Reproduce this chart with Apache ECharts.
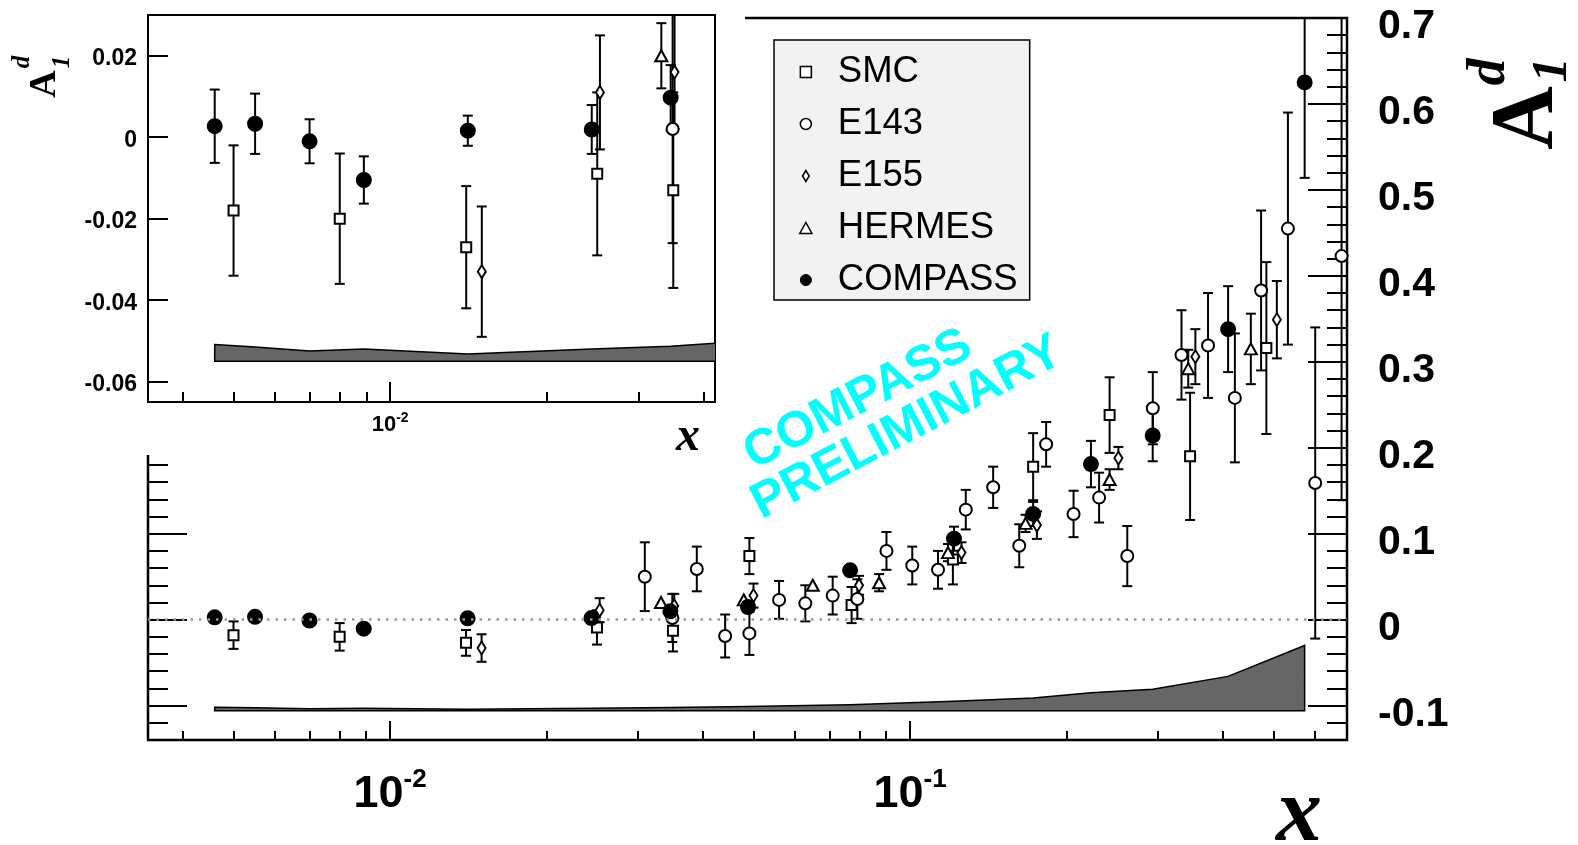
<!DOCTYPE html>
<html>
<head>
<meta charset="utf-8">
<title>A1d vs x</title>
<script src="https://cdn.jsdelivr.net/npm/echarts@6/dist/echarts.min.js"></script>
<style>html,body{margin:0;padding:0;background:#fff;}</style>
</head>
<body>
<div id="main" style="width:1578px;height:845px;"></div>
<script type="text/javascript">

var SANS = "'Liberation Sans', Arial, sans-serif";
var SERIF = "'Liberation Serif', 'Times New Roman', serif";

// data: x, A1d, stat. error
var SMC_X = [0.0050, 0.0080, 0.0140, 0.0250, 0.0350, 0.0491, 0.0772, 0.1209, 0.1725, 0.2420, 0.3456, 0.4845];
var SMC_Y = [-0.018, -0.020, -0.027, -0.009, -0.013, 0.074, 0.017, 0.070, 0.178, 0.238, 0.190, 0.316];
var SMC_E = [0.016, 0.016, 0.015, 0.020, 0.024, 0.021, 0.021, 0.029, 0.039, 0.044, 0.074, 0.100];

var E143_X = [0.0309, 0.0349, 0.0389, 0.0441, 0.0491, 0.0560, 0.0629, 0.0710, 0.0792, 0.0901, 0.1010, 0.1132, 0.1280, 0.1445,
              0.1622, 0.1827, 0.2063, 0.2310, 0.2617, 0.2930, 0.3327, 0.3742, 0.4214, 0.4733, 0.5330, 0.6015, 0.6760];
var E143_Y = [0.050, 0.002, 0.059, -0.019, -0.016, 0.023, 0.019, 0.028, 0.024, 0.080, 0.063, 0.058, 0.128, 0.154,
              0.086, 0.204, 0.123, 0.142, 0.074, 0.246, 0.308, 0.319, 0.258, 0.383, 0.455, 0.159, 0.423];
var E143_E = [0.040, 0.028, 0.026, 0.025, 0.025, 0.022, 0.021, 0.022, 0.023, 0.022, 0.022, 0.022, 0.023, 0.024,
              0.025, 0.026, 0.027, 0.029, 0.035, 0.042, 0.052, 0.061, 0.075, 0.093, 0.135, 0.181, 0.284];

var E155_X = [0.0150, 0.0253, 0.0352, 0.0500, 0.0798, 0.1256, 0.1754, 0.2516, 0.3538, 0.5075];
var E155_Y = [-0.033, 0.011, 0.016, 0.028, 0.040, 0.078, 0.110, 0.188, 0.306, 0.349];
var E155_E = [0.016, 0.014, 0.014, 0.014, 0.011, 0.012, 0.016, 0.013, 0.032, 0.045];

var HERMES_X = [0.0332, 0.0479, 0.0650, 0.0872, 0.1183, 0.1668, 0.2420, 0.3428, 0.4523];
var HERMES_Y = [0.020, 0.023, 0.040, 0.043, 0.078, 0.112, 0.163, 0.292, 0.315];
var HERMES_E = [0.008, 0.009, 0.008, 0.010, 0.010, 0.010, 0.012, 0.022, 0.041];

var COMPASS_X = [0.0046, 0.0055, 0.0070, 0.0089, 0.0141, 0.0244, 0.0346, 0.0488, 0.0767, 0.1215, 0.1725, 0.2228, 0.2929, 0.4090, 0.5740];
var COMPASS_Y = [0.0027, 0.0033, -0.0010, -0.0105, 0.0016, 0.0019, 0.0097, 0.0147, 0.0574, 0.0942, 0.1230, 0.1810, 0.2143, 0.3380, 0.6250];
var COMPASS_E = [0.0090, 0.0074, 0.0054, 0.0058, 0.0037, 0.0060, 0.0080, 0.0090, 0.0080, 0.0140, 0.0140, 0.0270, 0.0300, 0.0500, 0.1110];
var COMPASS_SYS = [0.0041, 0.0035, 0.0025, 0.0030, 0.0018, 0.0030, 0.0037, 0.0050, 0.0070, 0.0110, 0.0150, 0.0210, 0.0250, 0.0400, 0.0760];

// axis ranges and ticks
var X_MIN = 0.003424, X_MAX_MAIN = 0.6924, X_MAX_INSET = 0.0421;
var Y_MIN_MAIN = -0.14, Y_MAX_MAIN = 0.70;
var Y_MIN_INSET = -0.065, Y_MAX_INSET = 0.03;
var SYS_BASE_MAIN = -0.106, SYS_BASE_INSET = -0.055;

var X_MAJOR_MAIN = [0.01, 0.1];
var X_MINOR_MAIN = [0.004, 0.005, 0.006, 0.007, 0.008, 0.009, 0.02, 0.03, 0.04, 0.05, 0.06, 0.07, 0.08, 0.09, 0.2, 0.3, 0.4, 0.5, 0.6];
var Y_MAJOR_MAIN = [-0.1, 0, 0.1, 0.2, 0.3, 0.4, 0.5, 0.6, 0.7];
var Y_MINOR_MAIN = [-0.14, -0.12, -0.08, -0.06, -0.04, -0.02, 0.02, 0.04, 0.06, 0.08, 0.12, 0.14, 0.16, 0.18,
                    0.22, 0.24, 0.26, 0.28, 0.32, 0.34, 0.36, 0.38, 0.42, 0.44, 0.46, 0.48, 0.52, 0.54, 0.56, 0.58,
                    0.62, 0.64, 0.66, 0.68];
var X_MAJOR_INSET = [0.01];
var X_MINOR_INSET = [0.004, 0.005, 0.006, 0.007, 0.008, 0.009, 0.02, 0.03, 0.04];
var Y_MAJOR_INSET = [-0.06, -0.04, -0.02, 0, 0.02];

var SETS = [
    {name: 'SMC', x: SMC_X, y: SMC_Y, e: SMC_E, symbol: 'rect', size: 10, fill: '#fff'},
    {name: 'E143', x: E143_X, y: E143_Y, e: E143_E, symbol: 'circle', size: 12, fill: '#fff'},
    {name: 'E155', x: E155_X, y: E155_Y, e: E155_E, symbol: 'path://M4,0L8,6.5L4,13L0,6.5Z', size: [8, 13], fill: '#fff'},
    {name: 'HERMES', x: HERMES_X, y: HERMES_Y, e: HERMES_E, symbol: 'triangle', size: [12, 11], fill: '#fff'},
    {name: 'COMPASS', x: COMPASS_X, y: COMPASS_Y, e: COMPASS_E, symbol: 'circle', size: 14, fill: '#000'}
];

function points(s, xmax, ymin, ymax) {
    var out = [];
    for (var i = 0; i < s.x.length; i++) {
        if (s.x[i] <= xmax && s.y[i] >= ymin && s.y[i] <= ymax) out.push([s.x[i], s.y[i], s.e[i]]);
    }
    return out;
}

// bars shorter than the marker are not drawn, as in the original
function errorBars(ymin, ymax) {
    return function (params, api) {
        var x = api.value(0), y = api.value(1), e = api.value(2);
        var p0 = api.coord([x, Math.max(y - e, ymin)]);
        var p1 = api.coord([x, Math.min(y + e, ymax)]);
        var pc = api.coord([x, y]);
        if (Math.abs(p0[1] - pc[1]) < 8.5 && Math.abs(p1[1] - pc[1]) < 8.5) return;
        var st = {stroke: '#000', lineWidth: 2};
        var kids = [{type: 'line', shape: {x1: p0[0], y1: p0[1], x2: p1[0], y2: p1[1]}, style: st}];
        if (y - e > ymin) kids.push({type: 'line', shape: {x1: p0[0] - 5, y1: p0[1], x2: p0[0] + 5, y2: p0[1]}, style: st});
        if (y + e < ymax) kids.push({type: 'line', shape: {x1: p1[0] - 5, y1: p1[1], x2: p1[0] + 5, y2: p1[1]}, style: st});
        return {type: 'group', children: kids};
    };
}

function sysBand(base) {
    return function (params, api) {
        if (params.dataIndex !== 0) return;
        var pts = [];
        for (var i = 0; i < COMPASS_X.length; i++) pts.push(api.coord([COMPASS_X[i], base + COMPASS_SYS[i]]));
        pts.push(api.coord([COMPASS_X[COMPASS_X.length - 1], base]));
        pts.push(api.coord([COMPASS_X[0], base]));
        var cs = params.coordSys;
        return {
            type: 'polygon',
            shape: {points: pts},
            style: {fill: '#666666', stroke: '#000', lineWidth: 1.5},
            clipPath: {type: 'rect', shape: {x: cs.x, y: cs.y, width: cs.width, height: cs.height}}
        };
    };
}

function tickAxis(o) {
    return {
        type: o.type, gridIndex: o.grid, position: o.position, min: o.min, max: o.max, z: o.z,
        logBase: 10, silent: true,
        axisLine: {show: false, onZero: false},
        splitLine: {show: false},
        axisTick: {show: true, inside: true, length: o.len, customValues: o.ticks,
                   lineStyle: {color: '#000', width: 2}},
        axisLabel: o.label || {show: false}
    };
}

function powLabel(v) {
    return '{b|10}{s|' + Math.round(Math.log(v) / Math.LN10) + '}';
}

function yLabel(digits) {
    return function (v) { return '{v|' + (v === 0 ? '0' : v.toFixed(digits)) + '}'; };
}

var xAxes = [
    tickAxis({type: 'log', grid: 0, position: 'bottom', min: X_MIN, max: X_MAX_MAIN, len: 19, ticks: X_MAJOR_MAIN, z: 1,
        label: {show: true, customValues: X_MAJOR_MAIN, margin: 27, formatter: powLabel, color: '#000',
            rich: {b: {fontSize: 45, fontWeight: 'bold', fontFamily: SANS, color: '#000', lineHeight: 56},
                   s: {fontSize: 26, fontWeight: 'bold', fontFamily: SANS, color: '#000', lineHeight: 26, verticalAlign: 'top'}}}}),
    tickAxis({type: 'log', grid: 0, position: 'bottom', min: X_MIN, max: X_MAX_MAIN, len: 9, ticks: X_MINOR_MAIN, z: 1}),
    tickAxis({type: 'log', grid: 1, position: 'bottom', min: X_MIN, max: X_MAX_INSET, len: 20, ticks: X_MAJOR_INSET, z: 12,
        label: {show: true, customValues: X_MAJOR_INSET, margin: 9, formatter: powLabel, color: '#000',
            rich: {b: {fontSize: 22, fontWeight: 'bold', fontFamily: SANS, color: '#000', lineHeight: 28},
                   s: {fontSize: 14, fontWeight: 'bold', fontFamily: SANS, color: '#000', lineHeight: 14, verticalAlign: 'top'}}}}),
    tickAxis({type: 'log', grid: 1, position: 'bottom', min: X_MIN, max: X_MAX_INSET, len: 10, ticks: X_MINOR_INSET, z: 12})
];

var yAxes = [
    tickAxis({type: 'value', grid: 0, position: 'right', min: Y_MIN_MAIN, max: Y_MAX_MAIN, len: 39, ticks: Y_MAJOR_MAIN, z: 1,
        label: {show: true, customValues: Y_MAJOR_MAIN, margin: 31, formatter: yLabel(1),
            rich: {v: {fontSize: 41, fontWeight: 'bold', fontFamily: SANS, color: '#000', padding: [18, 0, 0, 0]}}}}),
    tickAxis({type: 'value', grid: 0, position: 'right', min: Y_MIN_MAIN, max: Y_MAX_MAIN, len: 20, ticks: Y_MINOR_MAIN, z: 1}),
    tickAxis({type: 'value', grid: 0, position: 'left', min: Y_MIN_MAIN, max: Y_MAX_MAIN, len: 39, ticks: Y_MAJOR_MAIN, z: 1}),
    tickAxis({type: 'value', grid: 0, position: 'left', min: Y_MIN_MAIN, max: Y_MAX_MAIN, len: 20, ticks: Y_MINOR_MAIN, z: 1}),
    tickAxis({type: 'value', grid: 1, position: 'left', min: Y_MIN_INSET, max: Y_MAX_INSET, len: 20, ticks: Y_MAJOR_INSET, z: 12,
        label: {show: true, customValues: Y_MAJOR_INSET, margin: 11, formatter: yLabel(2),
            rich: {v: {fontSize: 23, fontWeight: 'bold', fontFamily: SANS, color: '#000', padding: [6, 0, 0, 0]}}}})
];

var series = [];
function addPanel(xi, yi, xmax, ymin, ymax, base, z) {
    series.push({
        type: 'custom', xAxisIndex: xi, yAxisIndex: yi, z: z, silent: true, clip: true,
        renderItem: sysBand(base),
        data: COMPASS_X.map(function (x, i) { return [x, base + COMPASS_SYS[i]]; }),
        encode: {x: 0, y: 1}
    });
    SETS.forEach(function (s) {
        series.push({
            type: 'custom', xAxisIndex: xi, yAxisIndex: yi, z: z + 1, silent: true,
            renderItem: errorBars(ymin, ymax),
            data: points(s, xmax, ymin, ymax),
            encode: {x: 0, y: 1}
        });
    });
    SETS.forEach(function (s, k) {
        var ser = {
            type: 'scatter', name: s.name, xAxisIndex: xi, yAxisIndex: yi, z: z + 2, silent: true,
            symbol: s.symbol, symbolSize: s.size,
            itemStyle: {color: s.fill, borderColor: '#000', borderWidth: 2, opacity: 1},
            data: points(s, xmax, ymin, ymax).map(function (p) { return [p[0], p[1]]; })
        };
        if (k === 0) {
            ser.markLine = {silent: true, symbol: 'none', label: {show: false}, animation: false,
                lineStyle: {color: '#999', type: [2.5, 6], width: 2.5}, data: [{yAxis: 0}]};
        }
        series.push(ser);
    });
}
addPanel(0, 0, X_MAX_MAIN, Y_MIN_MAIN, Y_MAX_MAIN, SYS_BASE_MAIN, 2);
addPanel(2, 4, X_MAX_INSET, Y_MIN_INSET, Y_MAX_INSET, SYS_BASE_INSET, 13);

var openIcon = {color: '#fff', borderColor: '#000', borderWidth: 1.5};
var option = {
    animation: false,
    backgroundColor: '#fff',
    grid: [
        {left: 148, top: 18, width: 1199, height: 722, show: true, borderColor: '#000', borderWidth: 2.5,
         backgroundColor: 'transparent', z: 1, outerBoundsMode: 'none'},
        {left: 148, top: 15, width: 567, height: 387, show: true, borderColor: '#000', borderWidth: 2,
         backgroundColor: 'transparent', z: 11, outerBoundsMode: 'none'}
    ],
    xAxis: xAxes,
    yAxis: yAxes,
    legend: {
        orient: 'vertical', left: 774, top: 40, padding: [12, 12, 0, 25], itemGap: 12,
        itemWidth: 54, itemHeight: 11, selectedMode: false, z: 20,
        backgroundColor: '#f2f2f2', borderColor: '#000', borderWidth: 1.5, borderRadius: 0,
        textStyle: {fontSize: 36.5, fontFamily: SANS, color: '#000', lineHeight: 40},
        data: [
            {name: 'SMC', icon: 'path://M0,0H10V10H0Z', itemStyle: openIcon},
            {name: 'E143', icon: 'circle', itemStyle: openIcon},
            {name: 'E155', icon: 'path://M3,0L6,5L3,10L0,5Z', itemStyle: openIcon},
            {name: 'HERMES', icon: 'path://M5,0L10,9L0,9Z', itemStyle: openIcon},
            {name: 'COMPASS', icon: 'circle', itemStyle: {color: '#000', borderColor: '#000', borderWidth: 1}}
        ]
    },
    graphic: {elements: [
        // watermark
        {type: 'text', x: 858, y: 400, rotation: 27.5 * Math.PI / 180, z: 5, silent: true,
         style: {text: 'COMPASS', fill: '#00ffff', font: 'bold 50px ' + SANS, align: 'center', verticalAlign: 'middle'}},
        {type: 'text', x: 907, y: 428, rotation: 27.5 * Math.PI / 180, z: 5, silent: true,
         style: {text: 'PRELIMINARY', fill: '#00ffff', font: 'bold 50px ' + SANS, align: 'center', verticalAlign: 'middle'}},
        // white pad behind the inset
        {type: 'rect', shape: {x: 0, y: 0, width: 745, height: 455}, style: {fill: '#fff'}, z: 10, silent: true},
        // main axis titles
        {type: 'text', x: 1299, y: 816, z: 21, silent: true,
         style: {text: 'x', fill: '#000', font: 'italic bold 92px ' + SERIF, align: 'center', verticalAlign: 'middle'}},
        {type: 'text', x: 1528, y: 118, rotation: Math.PI / 2, z: 21, silent: true,
         style: {text: 'A', fill: '#000', font: 'bold 88px ' + SERIF, align: 'center', verticalAlign: 'middle'}},
        {type: 'text', x: 1553, y: 70, rotation: Math.PI / 2, z: 21, silent: true,
         style: {text: '1', fill: '#000', font: 'italic bold 50px ' + SERIF, align: 'center', verticalAlign: 'middle'}},
        {type: 'text', x: 1490, y: 72, rotation: Math.PI / 2, z: 21, silent: true,
         style: {text: 'd', fill: '#000', font: 'italic bold 54px ' + SERIF, align: 'center', verticalAlign: 'middle'}},
        // inset axis titles
        {type: 'text', x: 688, y: 438, z: 21, silent: true,
         style: {text: 'x', fill: '#000', font: 'italic bold 48px ' + SERIF, align: 'center', verticalAlign: 'middle'}},
        {type: 'text', x: 45, y: 84, rotation: Math.PI / 2, z: 21, silent: true,
         style: {text: 'A', fill: '#000', font: 'bold 38px ' + SERIF, align: 'center', verticalAlign: 'middle'}},
        {type: 'text', x: 63, y: 62, rotation: Math.PI / 2, z: 21, silent: true,
         style: {text: '1', fill: '#000', font: 'italic bold 25px ' + SERIF, align: 'center', verticalAlign: 'middle'}},
        {type: 'text', x: 23, y: 62, rotation: Math.PI / 2, z: 21, silent: true,
         style: {text: 'd', fill: '#000', font: 'italic bold 25px ' + SERIF, align: 'center', verticalAlign: 'middle'}}
    ]},
    series: series
};

var myChart = echarts.init(document.getElementById('main'));
myChart.setOption(option);
</script>
</body>
</html>
